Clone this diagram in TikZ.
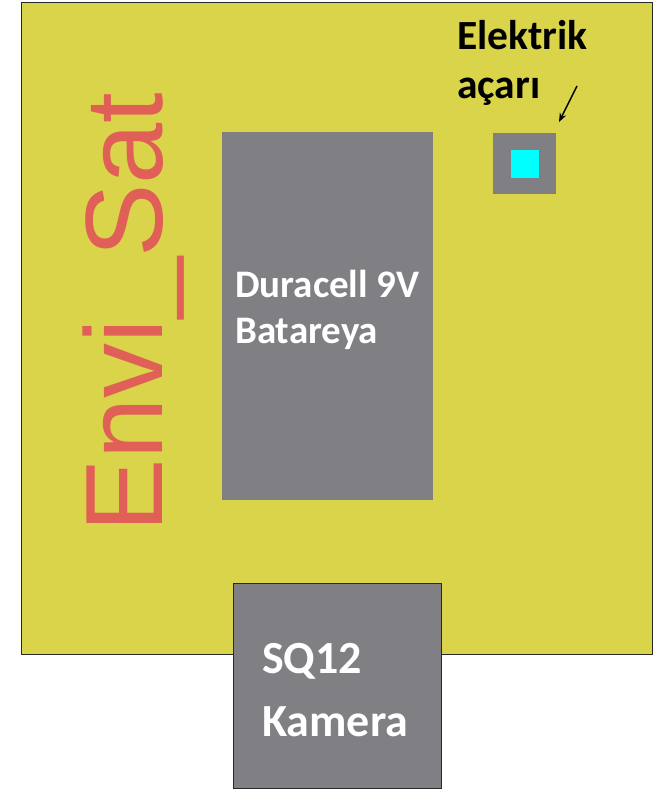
\documentclass[tikz,border=0pt]{standalone}
\usepackage{fontspec}
\usetikzlibrary{arrows.meta}
\setmainfont{Carlito}
\newfontfamily\arialfont{Liberation Sans}
\definecolor{board}{RGB}{218,212,74}
\definecolor{part}{RGB}{128,127,132}
\definecolor{logo}{RGB}{224,96,88}
\definecolor{edge}{RGB}{40,40,40}
\definecolor{ledcol}{RGB}{0,255,255}
\tikzset{
  boardbox/.style={fill=board, draw=edge, line width=1.2pt},
  partbox/.style={fill=part, draw=none},
  lbl/.style={font=\bfseries, text=white, align=left, inner sep=0pt, anchor=base west},
}
\begin{document}
\begin{tikzpicture}[x=1pt,y=-1pt]
\useasboundingbox (0,0) rectangle (656,789);
\fill[white] (0,0) rectangle (656,789);
\node[boardbox, minimum width=631pt, minimum height=652pt, anchor=north west, inner sep=0pt] (board) at (21,2) {};
\node[partbox, minimum width=211pt, minimum height=368pt, anchor=north west, inner sep=0pt] (battery) at (222,132) {};
\node[partbox, minimum width=63pt, minimum height=61pt, anchor=north west, inner sep=0pt] (switch) at (493,133) {};
\node[fill=ledcol, minimum width=28pt, minimum height=28pt, inner sep=0pt] (led) at (switch.center) {};
\node[partbox, draw=edge, line width=1.2pt, minimum width=208pt, minimum height=205pt, anchor=north west, inner sep=0pt] (camera) at (233,583) {};
\node[lbl, font=\bfseries\fontsize{39}{46}\selectfont] (battxt) at (235,343) {Duracell 9V\\Batareya};
\node[lbl, font=\bfseries\fontsize{46}{63}\selectfont] (camtxt) at (262,736) {SQ12\\Kamera};
\node[lbl, text=black, font=\bfseries\fontsize{41.5}{49}\selectfont] (swtxt) at (457,99) {Elektrik\\açarı};
\node[rotate=90, anchor=base west, inner sep=0pt, text=logo, font=\arialfont\fontsize{110}{110}\selectfont] (logo) at (162,533) {Envi\_Sat};
\coordinate (arrstart) at (577,86);
\draw[-{Stealth[length=9pt,width=7pt]}, line width=1.5pt] (arrstart) -- (559,122);
\end{tikzpicture}
\end{document}
